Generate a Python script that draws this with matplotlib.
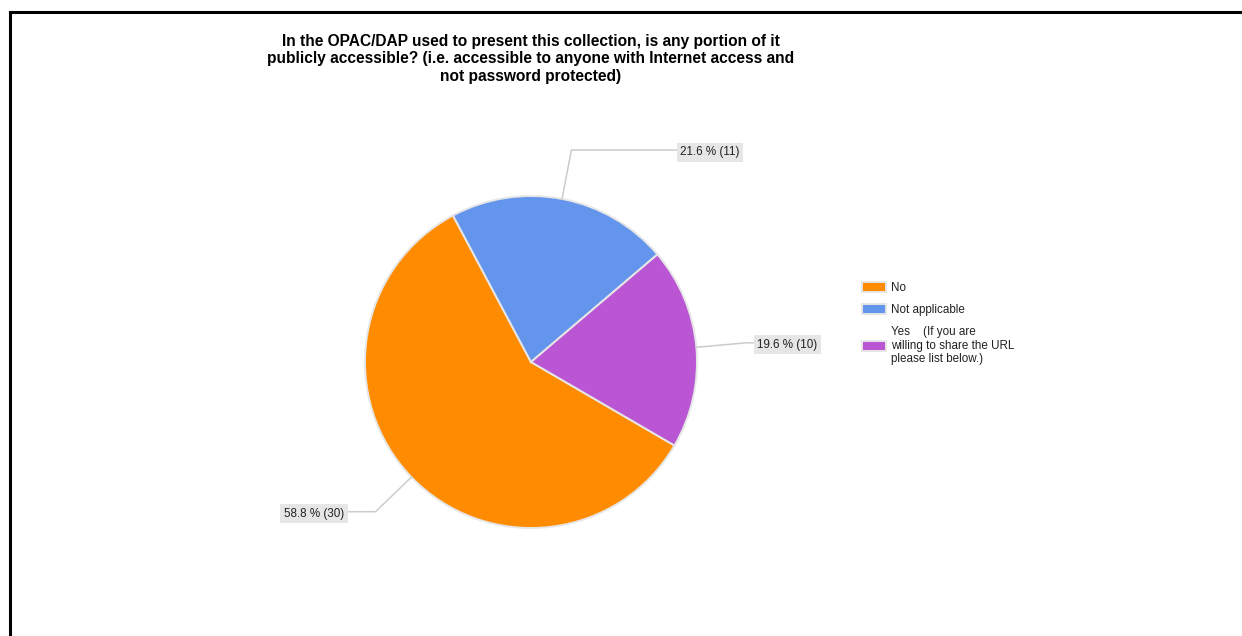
import numpy as np
from matplotlib import pyplot as plt
from matplotlib.lines import Line2D

CATEGORIES = ["No", "Not applicable",
              "Yes    (If you are\nwilling to share the URL\nplease list below.)"]
COUNTS = [30, 11, 10]
COLORS = ["#ff8c00", "#6495ed", "#ba55d3"]

TITLE = ("In the OPAC/DAP used to present this collection, is any portion of it\n"
         "publicly accessible? (i.e. accessible to anyone with Internet access and\n"
         "not password protected)")

W, H = 1242, 636
CX, CY, R = 531, 362, 166   # pie centre and radius in pixels

plt.rcParams['font.family'] = ['Liberation Sans', 'DejaVu Sans']

fig = plt.figure(figsize=(W / 100, H / 100), dpi=100)
ax = fig.add_axes([0, 0, 1, 1])

wedges, _ = ax.pie(COUNTS, colors=COLORS, startangle=-30.2, counterclock=False,
                   radius=1, wedgeprops=dict(edgecolor="#e6e6e6", linewidth=1.4))

# one data unit = one pie radius, origin at the pie centre
ax.set_xlim(-CX / R, (W - CX) / R)
ax.set_ylim(-(H - CY) / R, CY / R)
ax.axis("off")

# leader lines and value boxes (x = where the text starts / ends, in px)
total = sum(COUNTS)
text_x = [(344 - CX) / R, (680 - CX) / R, (757 - CX) / R]
for w, c, tx in zip(wedges, COUNTS, text_x):
    ang = np.deg2rad((w.theta1 + w.theta2) / 2)
    x0, y0 = np.cos(ang), np.sin(ang)
    x1, y1 = 1.3 * x0, 1.3 * y0
    ax.plot([x0, x1, tx], [y0, y1, y1], color="#cccccc", lw=1.1,
            solid_joinstyle="miter", zorder=1)
    ax.text(tx, y1 - 2 / R, f"{100 * c / total:.1f} % ({c})",
            ha="right" if x0 < 0 else "left", va="center",
            fontsize=8.4, color="#222222", zorder=3,
            bbox=dict(boxstyle="square,pad=0.3", fc="#e6e6e6", ec="none"))

ax.text(0, (CY - 59) / R, TITLE, ha="center", va="center", fontsize=11.2,
        fontweight="bold", color="#000000", linespacing=1.22)

ax.legend(wedges, CATEGORIES, loc="upper left",
          bbox_to_anchor=(862 / W, 1 - 282 / H), bbox_transform=fig.transFigure,
          frameon=False, fontsize=8.4, handlelength=2.05, handleheight=0.85,
          handletextpad=0.4, labelspacing=0.85, borderpad=0, borderaxespad=0,
          labelcolor="#222222")

# page frame
fig.add_artist(Line2D([10 / W, 10 / W], [0, 1 - 12 / H], color="black", lw=2.2,
                      transform=fig.transFigure, solid_capstyle="projecting"))
fig.add_artist(Line2D([10 / W, 1], [1 - 12 / H, 1 - 12 / H], color="black", lw=2.2,
                      transform=fig.transFigure, solid_capstyle="projecting"))

fig.savefig("out.png", dpi=100)
